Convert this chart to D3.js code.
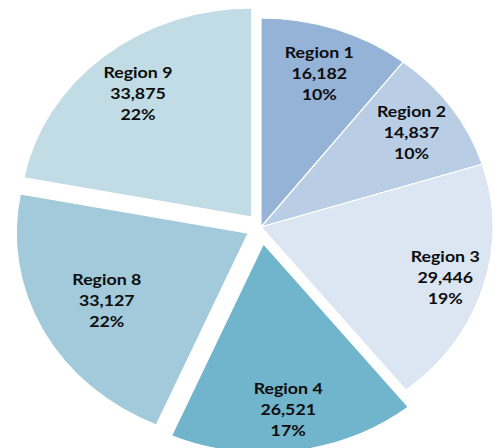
<!DOCTYPE html>
<html>
<head>
<meta charset="utf-8">
<script src="https://cdn.jsdelivr.net/npm/d3@7"></script>
<style>
  body { margin: 0; background: #fff; }
  svg { display: block; }
</style>
</head>
<body>
<div id="chart"></div>
<script>
var width = 502, height = 448;

// data
var regions = ["Region 1", "Region 2", "Region 3", "Region 4", "Region 8", "Region 9"];
var counts = [16182, 14837, 29446, 26521, 33127, 33875];
var percents = ["10%", "10%", "19%", "17%", "22%", "22%"];

// look
var colors = ["#95b3d7", "#b9cde5", "#dce6f2", "#71b5cc", "#a2cadb", "#c2dce5"];
var explode = { "Region 4": 17, "Region 8": 13, "Region 9": 13 };
var labelFactor = { "Region 1": 0.775, "Region 2": 0.79, "Region 3": 0.83,
                    "Region 4": 0.80, "Region 8": 0.69, "Region 9": 0.77 };

var stretchX = 1.11;   // the original picture is a bit wider than tall
var radius = 209;
var cx = 261, cy = 227;

var svg = d3.select("#chart")
  .append("svg")
  .attr("width", width)
  .attr("height", height);

var g = svg.append("g")
  .attr("transform", `translate(${cx},${cy}) scale(${stretchX},1)`);

var pie = d3.pie()
  .sort(null)
  .value(d => d.value);

var arc = d3.arc()
  .innerRadius(0)
  .outerRadius(radius);

var rows = regions.map((r, i) => ({ name: r, value: counts[i], pct: percents[i], color: colors[i] }));
var arcs = pie(rows);

function shift(d) {
  var off = explode[d.data.name] || 0;
  var mid = (d.startAngle + d.endAngle) / 2;
  return [Math.sin(mid) * off, -Math.cos(mid) * off];
}

var slices = g.selectAll(".slice")
  .data(arcs)
  .enter()
  .append("g")
  .attr("class", "slice")
  .attr("transform", d => `translate(${shift(d)})`);

slices.append("path")
  .attr("d", arc)
  .style("fill", d => d.data.color)
  .style("stroke", "#fff")
  .style("stroke-width", 1.2)
  .attr("vector-effect", "non-scaling-stroke");

var labels = slices.append("text")
  .attr("transform", d => {
    var mid = (d.startAngle + d.endAngle) / 2;
    var r = radius * labelFactor[d.data.name];
    return `translate(${Math.sin(mid) * r},${-Math.cos(mid) * r})`;
  })
  .attr("text-anchor", "middle")
  .style("font-family", "Lato, 'Open Sans', sans-serif")
  .style("font-weight", "bold")
  .style("font-size", "16px")
  .style("fill", "#0d0d0d");

labels.append("tspan")
  .attr("x", 0)
  .attr("y", -21)
  .attr("dy", "0.35em")
  .text(d => d.data.name);

labels.append("tspan")
  .attr("x", 0)
  .attr("y", 0)
  .attr("dy", "0.35em")
  .text(d => d3.format(",")(d.data.value));

labels.append("tspan")
  .attr("x", 0)
  .attr("y", 21)
  .attr("dy", "0.35em")
  .text(d => d.data.pct);
</script>
</body>
</html>
